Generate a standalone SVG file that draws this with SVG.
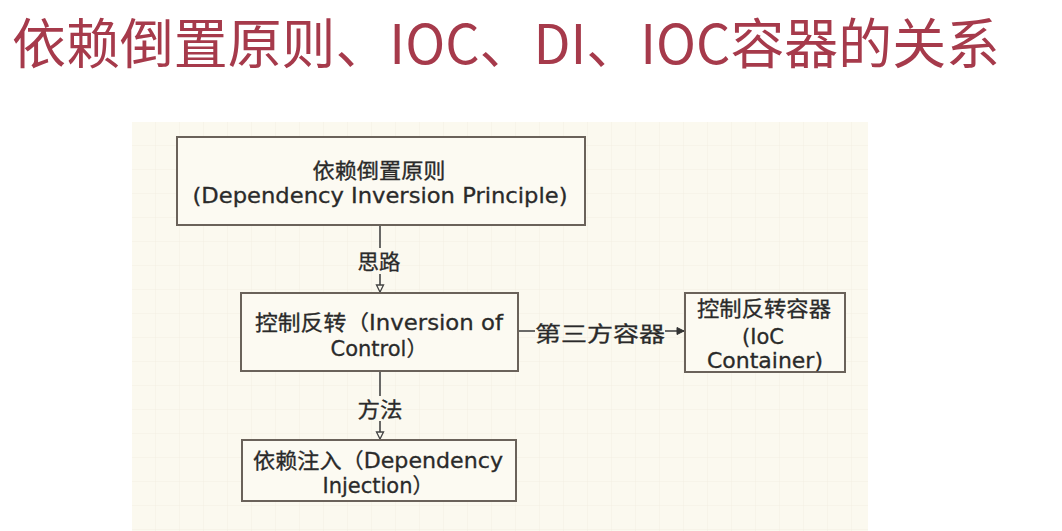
<svg xmlns="http://www.w3.org/2000/svg" width="1062" height="531" viewBox="0 0 1062 531">
<defs>
<pattern id="grid" width="24" height="24" patternUnits="userSpaceOnUse" x="132" y="122">
<path d="M24 0V24M0 24H24" fill="none" stroke="#f3efe2" stroke-width="1"/>
</pattern>
<marker id="arr" markerWidth="10" markerHeight="10" refX="8" refY="5" orient="auto" markerUnits="userSpaceOnUse">
<path d="M1 1.5L8 5L1 8.5Z" fill="#fbf9ef" stroke="#444" stroke-width="1.3"/>
</marker>
<marker id="arr2" markerWidth="10" markerHeight="10" refX="8" refY="5" orient="auto" markerUnits="userSpaceOnUse">
<path d="M1 1.5L8 5L1 8.5Z" fill="#333" stroke="#333" stroke-width="1"/>
</marker>
</defs>
<style>
.box{fill:#fcfaf2;stroke:#6a625a;stroke-width:2}
.t{font-family:"DejaVu Sans","Noto Sans CJK SC",sans-serif;font-size:21px;fill:#2a2a2a;stroke:#2a2a2a;stroke-width:0.3;text-anchor:middle}
.lbl{font-family:"Noto Sans CJK SC",sans-serif;font-size:21px;fill:#2a2a2a;stroke:#2a2a2a;stroke-width:0.3;text-anchor:middle}
.ln{stroke:#444;stroke-width:1.6;fill:none}
</style>
<rect width="1062" height="531" fill="#ffffff"/>
<text x="12" y="64" font-family="'Noto Sans CJK SC',sans-serif" font-size="54" fill="#a63a4b" textLength="988" lengthAdjust="spacingAndGlyphs">依赖倒置原则、IOC、DI、IOC容器的关系</text>
<rect x="132" y="122" width="736" height="409" fill="#fbf9ef"/>
<rect x="132" y="122" width="736" height="409" fill="url(#grid)"/>
<g id="connectors">
<line class="ln" x1="380" y1="225" x2="380" y2="248"/>
<line class="ln" x1="380" y1="274" x2="380" y2="292" marker-end="url(#arr)"/>
<line class="ln" x1="380" y1="371" x2="380" y2="396"/>
<line class="ln" x1="380" y1="421" x2="380" y2="439" marker-end="url(#arr)"/>
<line class="ln" x1="519" y1="331" x2="535" y2="331"/>
<line class="ln" x1="665" y1="331" x2="684" y2="331" marker-end="url(#arr2)"/>
<text class="lbl" x="379" y="269" textLength="43" lengthAdjust="spacingAndGlyphs">思路</text>
<text class="lbl" x="380" y="417" textLength="45" lengthAdjust="spacingAndGlyphs">方法</text>
<text class="lbl" x="600" y="341" font-size="26" textLength="130" lengthAdjust="spacingAndGlyphs">第三方容器</text>
</g>
<g id="node-dip">
<rect class="box" x="177" y="137" width="408" height="88"/>
<text class="t" x="379" y="178" textLength="133" lengthAdjust="spacingAndGlyphs">依赖倒置原则</text>
<text class="t" x="380" y="203" textLength="375" lengthAdjust="spacingAndGlyphs">(Dependency Inversion Principle)</text>
</g>
<g id="node-ioc">
<rect class="box" x="241" y="293" width="277" height="78"/>
<text class="t" x="379" y="330" textLength="248" lengthAdjust="spacingAndGlyphs">控制反转（Inversion of</text>
<text class="t" x="379" y="356">Control）</text>
</g>
<g id="node-di">
<rect class="box" x="242" y="440" width="274" height="61"/>
<text class="t" x="378" y="468" textLength="250" lengthAdjust="spacingAndGlyphs">依赖注入（Dependency</text>
<text class="t" x="378" y="493">Injection）</text>
</g>
<g id="node-container">
<rect class="box" x="685" y="293" width="160" height="79"/>
<text class="t" x="764" y="316" textLength="134" lengthAdjust="spacingAndGlyphs">控制反转容器</text>
<text class="t" x="763" y="344">(IoC</text>
<text class="t" x="765" y="368" textLength="116" lengthAdjust="spacingAndGlyphs">Container)</text>
</g>
</svg>
